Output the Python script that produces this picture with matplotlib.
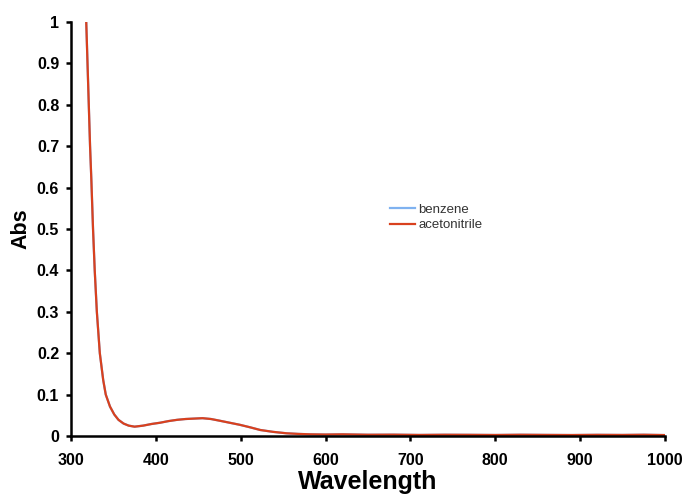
import matplotlib.pyplot as plt
import numpy as np

plt.rcParams['font.family'] = ['Liberation Sans', 'DejaVu Sans']

# wavelength (nm) and absorbance
wavelength = [318, 319.5, 321, 322.5, 324, 326, 328, 330.5, 334, 338, 341, 346, 351, 356, 362,
              368, 375, 385, 395, 405, 415, 425, 435, 445, 455, 465, 475, 487, 499, 511,
              523, 538, 554, 568, 582, 600, 620, 650, 680, 710, 740, 770, 800, 830, 860,
              890, 920, 950, 975, 1000]
acetonitrile = [1.0, 0.9, 0.8, 0.7, 0.62, 0.5, 0.4, 0.3, 0.2, 0.135, 0.1, 0.071, 0.052, 0.039, 0.030,
                0.025, 0.0225, 0.025, 0.029, 0.032, 0.036, 0.039, 0.041, 0.042, 0.043, 0.041, 0.037, 0.032, 0.027, 0.021,
                0.0145, 0.010, 0.0065, 0.005, 0.004, 0.0035, 0.004, 0.003, 0.0032, 0.0025, 0.003, 0.0028, 0.0024, 0.003, 0.0026,
                0.0023, 0.0028, 0.0025, 0.003, 0.0022]
benzene = acetonitrile  # hidden under the acetonitrile trace

fig = plt.figure(figsize=(6.85, 4.96), dpi=100)
ax = fig.add_axes([0.1036, 0.121, 0.8672, 0.8346])

ax.plot(wavelength, benzene, color='#7fb2f0', lw=1.6, label='benzene')
ax.plot(wavelength, acetonitrile, color='#d9411e', lw=1.6, label='acetonitrile')

ax.set_xlim(300, 1000)
ax.set_ylim(0, 1)
ax.set_xticks(np.arange(300, 1001, 100))
ax.set_yticks(np.arange(0, 1.01, 0.1))
ax.set_yticklabels(['0', '0.1', '0.2', '0.3', '0.4', '0.5', '0.6', '0.7', '0.8', '0.9', '1'])

ax.spines['top'].set_visible(False)
ax.spines['right'].set_visible(False)
ax.spines['left'].set_linewidth(1.8)
ax.spines['bottom'].set_linewidth(1.8)
ax.tick_params(direction='out', length=3.5, width=1.8, labelsize=11.5)
ax.tick_params(axis='x', pad=9)
ax.tick_params(axis='y', pad=5)
for lab in ax.get_xticklabels() + ax.get_yticklabels():
    lab.set_fontweight('bold')

ax.set_xlabel('Wavelength', fontsize=18, fontweight='bold', labelpad=1)
ax.set_ylabel('Abs', fontsize=15.5, fontweight='bold', labelpad=4)

ax.legend(loc='upper left', bbox_to_anchor=(0.537, 0.561), frameon=False, fontsize=9.5,
          borderpad=0, borderaxespad=0, handlelength=1.9, handletextpad=0.25,
          labelspacing=0.23, labelcolor='#333333')

plt.savefig('out.png', dpi=100)
